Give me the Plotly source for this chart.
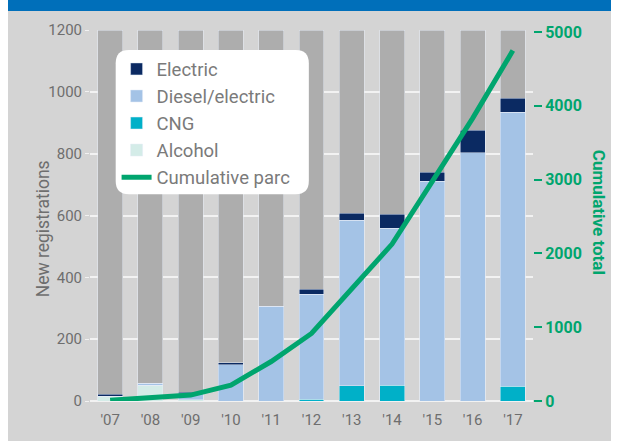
import plotly.graph_objects as go

years = ["'07", "'08", "'09", "'10", "'11", "'12", "'13", "'14", "'15", "'16", "'17"]

alcohol = [16, 51, 4, 0, 0, 0, 0, 0, 0, 0, 0]
cng = [0, 0, 0, 0, 0, 6, 50, 51, 0, 0, 48]
diesel_electric = [0, 6, 20, 118, 306, 340, 534, 508, 710, 803, 886]
electric = [6, 0, 5, 6, 0, 16, 23, 45, 30, 72, 46]
cumulative = [10, 40, 80, 216, 535, 915, 1520, 2126, 2976, 3830, 4748]

y_max = 1200
bg = [y_max] * len(years)

font_family = "Roboto, Lato, sans-serif"
grey_txt = "#6e6e6e"
green = "#00a56e"

fig = go.Figure()

# grey column behind each bar
fig.add_trace(go.Bar(x=years, y=bg, marker_color="#adadad", width=0.62,
                     showlegend=False, hoverinfo="skip", yaxis="y"))

# stacked series (legend order: Electric on top)
fig.add_trace(go.Bar(x=years, y=alcohol, name="Alcohol", marker_color="#d4ece8",
                     width=0.62, yaxis="y2", legendrank=4))
fig.add_trace(go.Bar(x=years, y=cng, name="CNG", marker_color="#00b0c8",
                     width=0.62, yaxis="y2", legendrank=3))
fig.add_trace(go.Bar(x=years, y=diesel_electric, name="Diesel/electric", marker_color="#a4c3e6",
                     width=0.62, yaxis="y2", legendrank=2))
fig.add_trace(go.Bar(x=years, y=electric, name="Electric", marker_color="#0b2a62",
                     width=0.62, yaxis="y2", legendrank=1))

fig.add_trace(go.Scatter(x=years, y=cumulative, name="Cumulative parc", mode="lines",
                         line=dict(color=green, width=5), yaxis="y3", legendrank=5))

fig.update_layout(
    width=619, height=441,
    margin=dict(l=82, r=94, t=30, b=38),
    paper_bgcolor="#d4d4d4", plot_bgcolor="#d4d4d4",
    barmode="stack", bargap=0.38,
    font=dict(family=font_family, size=15, color=grey_txt),
    xaxis=dict(showgrid=False, ticks="", tickfont=dict(size=15, color=grey_txt),
               showline=False, zeroline=False, ticklabelstandoff=8),
    yaxis=dict(range=[0, y_max], dtick=200, showgrid=True, gridcolor="#f2f2f2", gridwidth=1.5,
               zeroline=True, zerolinecolor="#f2f2f2", zerolinewidth=1.5,
               ticks="outside", ticklen=4, tickcolor="#f2f2f2",
               tickfont=dict(size=15, color=grey_txt)),
    yaxis2=dict(range=[0, y_max], overlaying="y", visible=False),
    yaxis3=dict(range=[0, 5027], overlaying="y", side="right", showgrid=False, zeroline=False,
                dtick=1000, ticks="outside", ticklen=8, tickwidth=2, tickcolor=green,
                tickfont=dict(size=16, color=green, family=font_family, weight="bold")),
    legend=dict(x=0.06, y=0.945, xanchor="left", yanchor="top", bgcolor="rgba(0,0,0,0)",
                font=dict(size=18.5, color="#7a7a7a"), itemwidth=30, tracegroupgap=0,
                traceorder="normal"),
    showlegend=True,
)

# rounded white legend box
x0, x1 = 0.058, 0.494
y0, y1 = 0.557, 0.946
r = 0.03
ry = r * 443 / 372.7
fig.add_shape(type="path", xref="paper", yref="paper", layer="above",
              fillcolor="white", line=dict(width=0),
              path=(f"M {x0+r},{y1} L {x1-r},{y1} Q {x1},{y1} {x1},{y1-ry} "
                    f"L {x1},{y0+ry} Q {x1},{y0} {x1-r},{y0} L {x0+r},{y0} "
                    f"Q {x0},{y0} {x0},{y0+ry} L {x0},{y1-ry} Q {x0},{y1} {x0+r},{y1} Z"))

# blue band on top
fig.add_shape(type="rect", xref="paper", yref="paper", x0=-0.2, x1=1.3, y0=1.051, y1=1.09,
              fillcolor="#006fba", line=dict(width=0), layer="below")

fig.add_annotation(text="New registrations", xref="paper", yref="paper", x=-0.106, y=0.463,
                   xanchor="center", yanchor="middle", textangle=-90, showarrow=False,
                   font=dict(size=17.5, color=grey_txt, family=font_family))
fig.add_annotation(text="Cumulative total", xref="paper", yref="paper", x=1.149, y=0.51,
                   xanchor="center", yanchor="middle", textangle=90, showarrow=False,
                   font=dict(size=17, color=green, family=font_family, weight="bold"))

fig.write_html("out.html", post_script="document.body.style.marginTop='0px';")
